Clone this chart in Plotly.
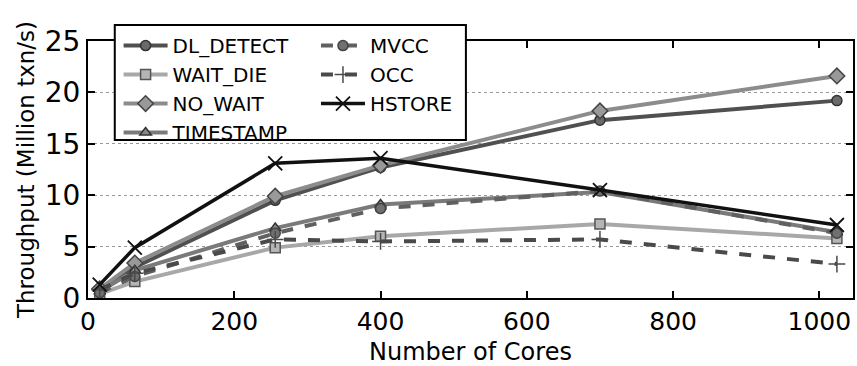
import plotly.graph_objects as go

cores = [16, 64, 256, 400, 700, 1024]
dl_detect = [0.8, 3.0, 9.5, 12.7, 17.3, 19.2]
wait_die = [0.4, 1.6, 4.9, 6.0, 7.2, 5.8]
no_wait = [0.9, 3.4, 9.9, 12.9, 18.2, 21.6]
timestamp = [0.6, 2.7, 6.8, 9.1, 10.3, 6.4]
mvcc = [0.5, 2.1, 6.3, 8.7, 10.4, 6.3]
occ = [0.8, 2.4, 5.7, 5.5, 5.7, 3.3]
hstore = [1.3, 4.9, 13.1, 13.6, 10.5, 7.1]

fig = go.Figure()

def add(name, y, color, dash, symbol, mfill, medge, legend, size=10, width=4):
    fig.add_trace(go.Scatter(
        x=cores, y=y, name=name, mode="lines+markers",
        line=dict(color=color, width=width, dash=dash),
        marker=dict(symbol=symbol, size=size, color=mfill,
                    line=dict(color=medge, width=1.5)),
        legend=legend, legendgroup=name))

add("DL_DETECT", dl_detect, "#505050", "solid", "circle", "#6a6a6a", "#333333", "legend")
add("WAIT_DIE", wait_die, "#a8a8a8", "solid", "square", "#b5b5b5", "#555555", "legend")
add("NO_WAIT", no_wait, "#8c8c8c", "solid", "diamond", "#999999", "#444444", "legend", size=12)
add("TIMESTAMP", timestamp, "#7a7a7a", "solid", "triangle-up", "#888888", "#333333", "legend")
add("MVCC", mvcc, "#606060", "dash", "circle", "#707070", "#444444", "legend2")
fig.add_trace(go.Scatter(
    x=cores, y=occ, name="OCC", mode="lines+markers",
    line=dict(color="#4a4a4a", width=4, dash="dash"),
    marker=dict(symbol="cross-thin", size=12, line=dict(color="#4a4a4a", width=1.5)),
    legend="legend2", legendgroup="OCC"))
fig.add_trace(go.Scatter(
    x=cores, y=hstore, name="HSTORE", mode="lines+markers",
    line=dict(color="#111111", width=3.5),
    marker=dict(symbol="x-thin", size=14, line=dict(color="#111111", width=1.8)),
    legend="legend2", legendgroup="HSTORE"))

font = dict(family="DejaVu Sans", color="black")
legfont = dict(family="DejaVu Sans", size=20, color="black")

fig.add_shape(type="rect", xref="paper", yref="paper",
              x0=0.035, x1=0.494, y0=0.615, y1=1.062,
              line=dict(color="black", width=2), fillcolor="white", layer="above")

fig.update_layout(
    width=857, height=366,
    margin=dict(l=88, r=2, t=41, b=68),
    plot_bgcolor="white", paper_bgcolor="white",
    font=font,
    showlegend=True,
    legend=dict(x=0.04, y=1.058, xanchor="left", yanchor="top", bgcolor="rgba(0,0,0,0)",
                font=legfont, tracegroupgap=0, itemwidth=44),
    legend2=dict(x=0.298, y=1.058, xanchor="left", yanchor="top", bgcolor="rgba(0,0,0,0)",
                 font=legfont, tracegroupgap=0, itemwidth=44),
    xaxis=dict(range=[0, 1046], tickvals=[0, 200, 400, 600, 800, 1000],
               ticks="inside", ticklen=7, tickwidth=1.5, tickcolor="black",
               showline=True, linecolor="black", linewidth=2, mirror="ticks",
               showgrid=False, zeroline=False,
               tickfont=dict(family="DejaVu Sans", size=25, color="black"),
               title=dict(text="Number of Cores", font=dict(family="DejaVu Sans", size=24, color="black"), standoff=8)),
    yaxis=dict(range=[0, 25], tickvals=[0, 5, 10, 15, 20, 25],
               ticks="inside", ticklen=7, tickwidth=1.5, tickcolor="black",
               showline=True, linecolor="black", linewidth=2, mirror="ticks",
               showgrid=True, gridcolor="#999999", griddash="dot", gridwidth=1,
               zeroline=False,
               tickfont=dict(family="DejaVu Sans", size=28, color="black"),
               title=dict(text="Throughput (Million txn/s)", font=dict(family="DejaVu Sans", size=23, color="black"), standoff=4)),
)

fig.write_html("out.html")
